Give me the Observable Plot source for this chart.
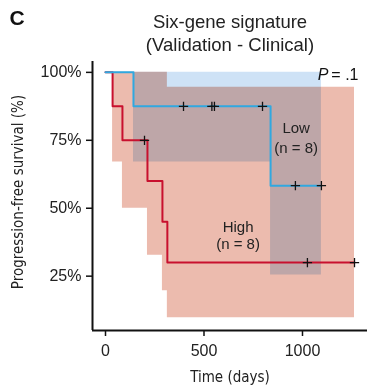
<!DOCTYPE html>
<html><head><meta charset="utf-8">
<script src="https://cdn.jsdelivr.net/npm/d3@7"></script>
<script src="https://cdn.jsdelivr.net/npm/@observablehq/plot@0.6"></script>
<style>
body{margin:0;background:#fff;}
</style>
</head><body>
<div id="chart"></div>
<script>
// Low-risk group (blue)
const lowTime  = [0, 142, 838, 1096];
const lowSurv  = [1, 0.875, 0.583, 0.583];
const lowUpper = [1, 1, 1, 1];
const lowLower = [1, 0.67, 0.254, 0.254];
const lowCensorTime = [396, 540, 553, 797, 964, 1096];
const lowCensorSurv = [0.875, 0.875, 0.875, 0.875, 0.583, 0.583];

// High-risk group (red)
const highTime  = [0, 36, 86, 213, 289, 314, 1264];
const highSurv  = [1, 0.875, 0.75, 0.6, 0.45, 0.3, 0.3];
const highUpper = [1, 1, 1, 1, 1, 0.945, 0.945];
const highLower = [1, 0.67, 0.5, 0.327, 0.196, 0.097, 0.097];
const highCensorTime = [198, 1025, 1264];
const highCensorSurv = [0.75, 0.3, 0.3];

const xTicks = [0, 500, 1000];
const yTicks = [0.25, 0.5, 0.75, 1];

const groupLabels = [
  {t: 968, s: 0.795, text: "Low"}, {t: 968, s: 0.722, text: "(n = 8)"},
  {t: 673, s: 0.430, text: "High"}, {t: 673, s: 0.367, text: "(n = 8)"}
];

const lowData = lowTime.map((t, i) => ({t, s: lowSurv[i], hi: lowUpper[i], lo: lowLower[i]}));
const highData = highTime.map((t, i) => ({t, s: highSurv[i], hi: highUpper[i], lo: highLower[i]}));
const lowCens = lowCensorTime.map((t, i) => ({t, s: lowCensorSurv[i]}));
const highCens = highCensorTime.map((t, i) => ({t, s: highCensorSurv[i]}));

const xDom = [-66, 1330], yDom = [0.05, 1.04];
const narrow = "'Liberation Sans Narrow','DejaVu Sans Condensed',sans-serif";

const plot = Plot.plot({
  width: 377, height: 391,
  marginLeft: 92, marginRight: 10, marginTop: 61, marginBottom: 61,
  style: {fontFamily: "'Liberation Sans', Arial, sans-serif", background: "#fff"},
  x: {domain: xDom},
  y: {domain: yDom},
  marks: [
    Plot.areaY(highData, {x: "t", y1: "lo", y2: "hi", curve: "step-after", fill: "#ecbbae", mixBlendMode: "multiply"}),
    Plot.areaY(lowData, {x: "t", y1: "lo", y2: "hi", curve: "step-after", fill: "#cee2f6", mixBlendMode: "multiply"}),
    Plot.line(highData, {x: "t", y: "s", curve: "step-after", stroke: "#c8102e", strokeWidth: 2}),
    Plot.line(lowData, {x: "t", y: "s", curve: "step-after", stroke: "#30a8e0", strokeWidth: 2}),
    Plot.dot(lowCens, {x: "t", y: "s", symbol: "plus", r: 3.1, stroke: "#111", strokeWidth: 1.3}),
    Plot.dot(highCens, {x: "t", y: "s", symbol: "plus", r: 3.1, stroke: "#111", strokeWidth: 1.3}),
    Plot.axisY({ticks: yTicks, tickFormat: d3.format(".0%"), tickSize: 6, tickPadding: 5, label: null, fontSize: 16, stroke: "#111", strokeWidth: 1.5, color: "#222"}),
    Plot.axisX({ticks: xTicks, tickFormat: d3.format("d"), tickSize: 6, tickPadding: 8, label: null, fontSize: 16, stroke: "#111", strokeWidth: 1.5, color: "#222"}),
    Plot.ruleX([xDom[0]], {y1: yDom[0], y2: yDom[1], stroke: "#111", strokeWidth: 2}),
    Plot.ruleY([yDom[0]], {x1: xDom[0], x2: xDom[1], stroke: "#111", strokeWidth: 2}),
    Plot.text(groupLabels, {x: "t", y: "s", text: "text", fontSize: 15, fill: "#222"}),
    Plot.text(["P"], {frameAnchor: "top-right", dx: -39, dy: 7, fontSize: 16, fontStyle: "italic", fill: "#111", textAnchor: "end"}),
    Plot.text(["= .1"], {frameAnchor: "top-right", dx: -9, dy: 7, fontSize: 16, fill: "#111", textAnchor: "end"}),
    Plot.text(["C"], {frameAnchor: "top-left", dx: -83, dy: -51, fontSize: 21, fontWeight: "bold", fill: "#111", textAnchor: "start"}),
    Plot.text(["Six-gene signature"], {frameAnchor: "top", dx: 0, dy: -47, fontSize: 18.5, fill: "#222"}),
    Plot.text(["(Validation - Clinical)"], {frameAnchor: "top", dx: 0, dy: -24, fontSize: 18.5, fill: "#222"}),
    Plot.text(["Progression-free survival (%)"], {frameAnchor: "left", textAnchor: "middle", dx: -74, dy: -4, rotate: -90, fontSize: 15, fontFamily: narrow, fill: "#222"}),
    Plot.text(["Time (days)"], {frameAnchor: "bottom", textAnchor: "middle", dx: 0, dy: 51, fontSize: 15, fontFamily: narrow, fill: "#222"})
  ]
});
document.getElementById("chart").append(plot);
</script>
</body></html>
